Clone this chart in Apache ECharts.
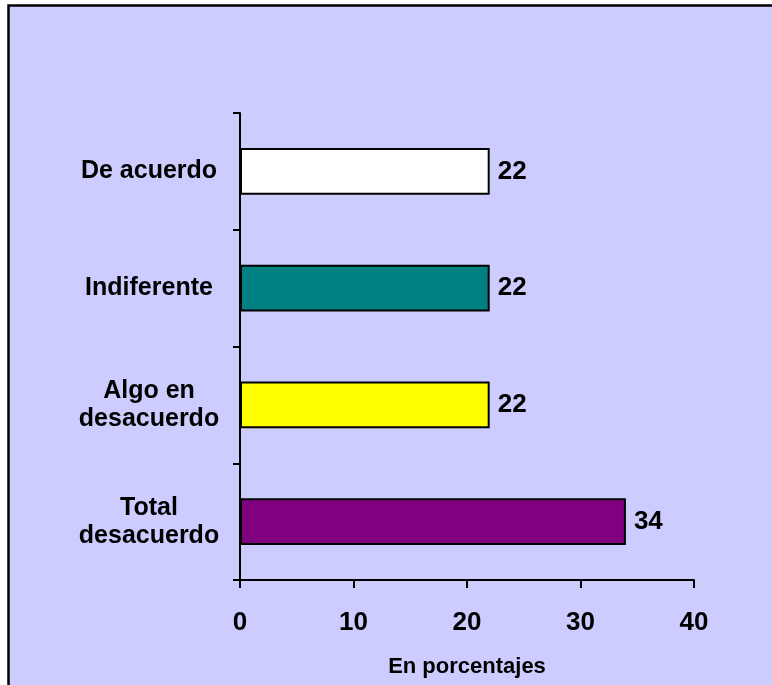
<!DOCTYPE html>
<html>
<head>
<meta charset="utf-8">
<script src="https://cdn.jsdelivr.net/npm/echarts@6/dist/echarts.min.js"></script>
<style>
html,body{margin:0;padding:0;background:#fff;}
#c{width:772px;height:685px;}
</style>
</head>
<body>
<div id="c"></div>
<script>
const categories = ['Total\ndesacuerdo', 'Algo en\ndesacuerdo', 'Indiferente', 'De acuerdo'];
const values = [34, 22, 22, 22];
const barColors = ['#800080', '#FFFF00', '#008080', '#FFFFFF'];
const xTicks = [0, 10, 20, 30, 40];
const xAxisName = 'En porcentajes';

const FONT = '"Liberation Sans", Arial, sans-serif';
const chart = echarts.init(document.getElementById('c'), null, {renderer: 'canvas'});
chart.setOption({
  animation: false,
  backgroundColor: '#fff',
  graphic: [{
    type: 'rect', z: -10, silent: true,
    shape: {x: 8.5, y: 5.5, width: 900, height: 800},
    style: {fill: '#CCCCFF', stroke: '#000', lineWidth: 2.5}
  }],
  grid: {left: 240, right: 78, top: 113, bottom: 105, containLabel: false},
  xAxis: {
    type: 'value',
    min: xTicks[0], max: xTicks[xTicks.length - 1], interval: 10,
    name: xAxisName,
    nameLocation: 'middle',
    nameGap: 76,
    nameTextStyle: {fontFamily: FONT, fontWeight: 'bold', fontSize: 22, color: '#000'},
    axisLine: {show: true, lineStyle: {color: '#000', width: 2}},
    axisTick: {show: true, inside: false, length: 8, lineStyle: {color: '#000', width: 2}},
    axisLabel: {fontFamily: FONT, fontWeight: 'bold', fontSize: 26, color: '#000', margin: 30},
    splitLine: {show: false}
  },
  yAxis: {
    type: 'category',
    data: categories,
    axisLine: {show: true, lineStyle: {color: '#000', width: 2}},
    axisTick: {show: true, inside: false, length: 7, lineStyle: {color: '#000', width: 2}},
    axisLabel: {fontFamily: FONT, fontWeight: 'bold', fontSize: 25, color: '#000', margin: 91, align: 'center', lineHeight: 28},
    splitLine: {show: false}
  },
  series: [{
    type: 'bar',
    data: values.map((v, i) => ({value: v, itemStyle: {color: barColors[i]}})),
    barCategoryGap: '60%',
    itemStyle: {borderColor: '#000', borderWidth: 2},
    label: {
      show: true, position: 'right', distance: 8,
      fontFamily: FONT, fontWeight: 'bold', fontSize: 26, color: '#000'
    }
  }]
});
</script>
</body>
</html>
